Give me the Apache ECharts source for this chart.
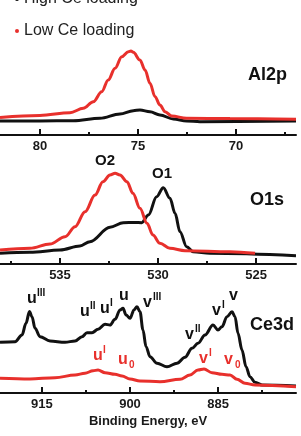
<!DOCTYPE html>
<html>
<head>
<meta charset="utf-8">
<script src="https://cdn.jsdelivr.net/npm/echarts@6/dist/echarts.min.js"></script>
<style>
html, body { margin: 0; padding: 0; background: #fff; }
#chart { width: 301px; height: 436px; }
</style>
</head>
<body>
<div id="chart"></div>
<script>
// Al2p
var al2pHighE = [82.04, 80.0, 78.3, 76.94, 75.92, 75.24, 74.9, 74.39, 73.88, 73.2, 72.52, 71.84, 66.94];
var al2pHigh  = [14, 14, 14.3, 16.7, 21, 24.3, 25, 23.3, 20, 16, 14, 13.3, 14];
var al2pLowE  = [82.04, 80.0, 78.47, 77.79, 77.28, 76.85, 76.52, 76.17, 75.83, 75.49, 75.36, 75.24, 74.9, 74.64, 74.39, 74.13, 73.88, 73.62, 73.28, 72.52, 70.31, 66.94];
var al2pLow   = [17.5, 19.5, 22.3, 26.7, 33.3, 43.3, 55, 66.7, 78.3, 83.3, 84, 82.7, 75, 65, 51.7, 38.3, 30, 23.3, 19, 16.7, 16.5, 15.7];

// O1s
var o1sHighE = [538.06, 536.53, 535.0, 533.98, 533.47, 532.45, 531.77, 531.2, 530.83, 530.49, 530.07, 529.73, 529.39, 529.13, 528.88, 528.54, 528.2, 527.35, 522.96];
var o1sHigh  = [10.7, 11.7, 14, 18, 22.3, 36.7, 41.3, 41.5, 41.3, 49, 67.3, 76.3, 65.7, 50.7, 32.3, 17.3, 12.3, 10.7, 8.3];
var o1sLowE  = [538.06, 536.53, 535.51, 534.74, 534.23, 533.72, 533.21, 532.81, 532.45, 532.19, 531.94, 531.58, 531.28, 530.92, 530.56, 530.26, 529.9, 529.39, 528.62, 526.33, 525.05];
var o1sLow   = [14, 15.7, 20, 27.3, 37.3, 52.3, 69, 82.3, 89, 90.7, 89, 82.3, 70.7, 55.7, 40.7, 29, 20.7, 15.7, 13.3, 12.3, 10.7];

// Ce3d
var ce3dHighE = [922.15, 919.59, 918.4, 917.72, 917.13, 916.7, 916.18, 915.33, 913.63, 911.07, 909.37, 908.18, 907.33, 906.47, 905.45, 904.26, 903.41, 902.56, 901.7, 901.19, 900.68, 900.0, 899.32, 898.81, 898.3, 897.79, 897.27, 896.59, 895.4, 893.7, 891.99, 890.63, 889.44, 888.42, 887.22, 885.86, 885.01, 884.33, 883.48, 882.62, 882.11, 881.6, 880.92, 880.24, 879.56, 878.71, 877.51, 871.72];
var ce3dHigh  = [50.7, 51.3, 58, 69.7, 81.5, 76.3, 64.7, 56.3, 52, 50.7, 52, 56.3, 60.3, 60.3, 63.7, 68.7, 68, 73.7, 83, 84.7, 78, 74.7, 83, 86.3, 81.3, 63, 46.3, 36.3, 29.7, 26.3, 29.7, 35.7, 44.7, 49.7, 58, 68, 63, 66.3, 76.3, 81.3, 76.3, 59.7, 43, 26.3, 16.3, 10.7, 8, 7];
var ce3dLowE  = [922.15, 917.04, 912.78, 909.37, 907.67, 906.3, 905.45, 904.26, 902.56, 901.36, 900.0, 898.3, 894.89, 891.48, 889.78, 888.42, 887.39, 886.03, 884.33, 882.96, 881.77, 880.41, 878.71, 871.72];
var ce3dLow   = [14.7, 14, 15.3, 18, 19.7, 22.3, 23, 20.3, 18.7, 17, 14, 12, 11.3, 13.7, 18, 23, 24, 20.3, 18.7, 18, 13.7, 9.7, 8, 6.3];

var seriesNames = ['High Ce loading', 'Low Ce loading'];
var al2pTicks = [80, 75, 70], al2pMinor = [77.5, 72.5, 67.5];
var o1sTicks = [535, 530, 525], o1sMinor = [537.5, 532.5, 527.5];
var ce3dTicks = [915, 900, 885], ce3dMinor = [907.5, 892.5, 877.5];
var ranges = [[66.94, 82.04], [522.96, 538.06], [871.72, 922.15]];

var BLACK = '#111111';
var RED = '#e8302c';
var FONT = '"Liberation Sans", Arial, sans-serif';

function zip(xs, ys) {
	var out = [];
	for (var i = 0; i < xs.length; i++) out.push([xs[i], ys[i]]);
	return out;
}

function majorAxis(idx, ticks, name) {
	return {
		type: 'value', gridIndex: idx, inverse: true, position: 'bottom',
		min: ranges[idx][0], max: ranges[idx][1],
		axisLine: { show: true, onZero: false, lineStyle: { color: BLACK, width: 2 } },
		axisTick: { show: true, inside: true, length: 6, customValues: ticks, lineStyle: { color: BLACK, width: 2 } },
		axisLabel: { show: true, margin: 5, customValues: ticks, color: '#1a1a1a', fontSize: 13, fontWeight: 'bold', fontFamily: FONT },
		splitLine: { show: false },
		name: name || '', nameLocation: 'middle', nameGap: 22,
		nameTextStyle: { color: '#1a1a1a', fontSize: 13, fontWeight: 'bold', fontFamily: FONT }
	};
}

function minorAxis(idx, ticks) {
	return {
		type: 'value', gridIndex: idx, inverse: true, position: 'bottom',
		min: ranges[idx][0], max: ranges[idx][1],
		axisLine: { show: false, onZero: false },
		axisTick: { show: true, inside: true, length: 3, customValues: ticks, lineStyle: { color: BLACK, width: 2 } },
		axisLabel: { show: false },
		splitLine: { show: false }
	};
}

function line(name, color, axisIdx, data) {
	return {
		name: name, type: 'line', xAxisIndex: axisIdx, yAxisIndex: axisIdx / 2,
		data: data, showSymbol: false, smooth: 0.35, smoothMonotone: 'x',
		lineStyle: { color: color, width: 3 }, itemStyle: { color: color }
	};
}

function txt(str, x, y, size, color) {
	return {
		type: 'text', left: x, top: y - size / 2 - 1,
		style: { text: str, fill: color, font: 'bold ' + size + 'px ' + FONT }
	};
}

// peak labels: [main, sup, sub, x, y, color]
var peakLabels = [
	['u', 'III', '', 27, 300, BLACK],
	['u', 'II', '', 80, 313, BLACK],
	['u', 'I', '', 100, 310, BLACK],
	['u', '', '', 119, 297, BLACK],
	['v', 'III', '', 143, 304, BLACK],
	['v', 'II', '', 185, 336, BLACK],
	['v', 'I', '', 212, 312, BLACK],
	['v', '', '', 229, 297, BLACK],
	['u', 'I', '', 93, 357, RED],
	['u', '', '0', 118, 361, RED],
	['v', 'I', '', 199, 360, RED],
	['v', '', '0', 224, 361, RED]
];

var graphics = [
	txt('Al2p', 248, 76, 18, BLACK),
	txt('O1s', 250, 201, 18, BLACK),
	txt('Ce3d', 250, 326, 18, BLACK),
	txt('O2', 95, 162, 15, BLACK),
	txt('O1', 152, 175, 15, BLACK)
];
for (var i = 0; i < peakLabels.length; i++) {
	var p = peakLabels[i];
	graphics.push(txt(p[0], p[3], p[4], 16, p[5]));
	if (p[1]) graphics.push(txt(p[1], p[3] + 10, p[4] - 6, 10, p[5]));
	if (p[2]) graphics.push(txt(p[2], p[3] + 11, p[4] + 5, 10, p[5]));
}

var option = {
	animation: false,
	backgroundColor: '#ffffff',
	legend: {
		data: seriesNames, orient: 'vertical', left: 15, top: -9, padding: 0,
		itemGap: 16, icon: 'circle', itemWidth: 4, itemHeight: 4,
		textStyle: { color: '#222', fontSize: 16, fontFamily: FONT }
	},
	grid: [
		{ left: 0, right: 5, top: 35, bottom: 301 },
		{ left: 0, right: 5, top: 164, bottom: 172 },
		{ left: 0, right: 5, top: 293, bottom: 43 }
	],
	xAxis: [
		majorAxis(0, al2pTicks), minorAxis(0, al2pMinor),
		majorAxis(1, o1sTicks), minorAxis(1, o1sMinor),
		majorAxis(2, ce3dTicks, 'Binding Energy, eV'), minorAxis(2, ce3dMinor)
	],
	yAxis: [
		{ type: 'value', gridIndex: 0, min: 0, max: 100, show: false },
		{ type: 'value', gridIndex: 1, min: 0, max: 100, show: false },
		{ type: 'value', gridIndex: 2, min: 0, max: 100, show: false }
	],
	graphic: graphics,
	series: [
		line(seriesNames[0], BLACK, 0, zip(al2pHighE, al2pHigh)),
		line(seriesNames[1], RED, 0, zip(al2pLowE, al2pLow)),
		line(seriesNames[0], BLACK, 2, zip(o1sHighE, o1sHigh)),
		line(seriesNames[1], RED, 2, zip(o1sLowE, o1sLow)),
		line(seriesNames[0], BLACK, 4, zip(ce3dHighE, ce3dHigh)),
		line(seriesNames[1], RED, 4, zip(ce3dLowE, ce3dLow))
	]
};

var chart = echarts.init(document.getElementById('chart'));
chart.setOption(option);
</script>
</body>
</html>
